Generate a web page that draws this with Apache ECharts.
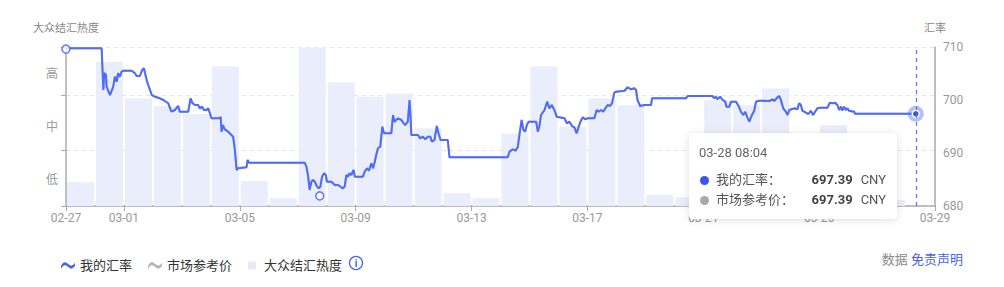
<!DOCTYPE html>
<html>
<head>
<meta charset="utf-8">
<script src="https://cdn.jsdelivr.net/npm/echarts@6/dist/echarts.min.js"></script>
<style>
html,body{margin:0;padding:0;background:#fff;}
#chart{width:1004px;height:287px;}
</style>
</head>
<body>
<div id="chart"></div>
<script>
// ---------- data ----------
const tickLabels = ['02-27','03-01','03-05','03-09','03-13','03-17','03-21','03-25','03-29'];
const tickDays   = [0, 2, 6, 10, 14, 18, 22, 26, 30]; // days after 02-27 00:00
const dayLabels = ['02-27','02-28','03-01','03-02','03-03','03-04','03-05','03-06','03-07','03-08',
  '03-09','03-10','03-11','03-12','03-13','03-14','03-15','03-16','03-17','03-18',
  '03-19','03-20','03-21','03-22','03-23','03-24','03-25','03-26','03-27','03-28'];
const heatValues = [0.43,2.60,1.94,1.80,1.66,2.52,0.45,0.14,2.86,2.23,
  1.97,2.03,1.40,0.23,0.14,1.31,2.52,1.43,1.94,1.82,
  0.20,0.16,1.91,1.82,2.12,0.90,1.46,0.30,0.11,null];
const heatLevels = ['低','中','高'];

// time of each rate sample, in days after 02-27 00:00
const rateDays = [0,1.23,1.29,1.32,1.38,1.40,1.52,1.63,1.69,1.75,1.80,1.86,1.92,1.98,2.27,2.38,2.44,2.55,2.63,2.69,
  2.73,2.80,2.90,2.96,3.07,3.24,3.36,3.53,3.64,3.76,3.87,3.93,4.22,4.30,4.37,4.45,4.56,4.62,4.70,4.76,
  4.85,4.91,4.97,5.02,5.31,5.34,5.37,5.42,5.48,5.60,5.71,5.77,5.83,5.89,5.94,6.23,6.27,6.32,8.24,8.30,
  8.36,8.41,8.47,8.53,8.59,8.67,8.73,8.78,8.84,8.91,8.97,9.01,9.16,9.28,9.39,9.56,9.62,9.68,9.73,9.79,
  9.85,9.93,9.97,10.25,10.31,10.39,10.46,10.54,10.60,10.66,10.71,10.77,10.85,10.92,10.98,11.23,11.29,11.34,11.46,11.58,
  11.66,11.71,11.80,11.86,11.90,11.92,12.15,12.23,12.32,12.41,12.49,12.58,12.63,12.72,12.80,12.86,12.93,13.18,13.24,15.25,
  15.31,15.42,15.52,15.60,15.66,15.73,15.79,15.85,15.91,15.97,16.23,16.29,16.34,16.40,16.52,16.61,16.69,16.77,16.86,16.94,
  17.03,17.21,17.29,17.38,17.47,17.55,17.63,17.68,17.76,17.84,17.92,18.01,18.24,18.32,18.39,18.47,18.55,18.62,18.70,18.78,
  18.85,18.93,18.99,19.28,19.39,19.51,19.62,19.68,19.73,19.82,19.97,20.20,20.23,21.40,21.46,22.32,22.38,22.44,22.49,22.58,
  22.67,22.76,22.80,22.90,22.96,23.13,23.22,23.30,23.38,23.45,23.51,23.59,23.68,23.76,23.82,23.93,24.28,24.39,24.45,24.56,
  24.62,24.68,24.76,24.85,24.91,24.97,25.14,25.25,25.31,25.37,25.42,25.54,25.63,25.71,25.79,25.86,25.94,26.06,26.29,26.37,
  26.46,26.55,26.63,26.69,26.75,26.80,26.86,26.92,26.98,27.03,27.21,27.24,29.336];
const rateValues = [709.75,709.75,701.89,705.09,704.72,702.51,700.94,702.51,704.40,703.45,705.04,704.40,705.34,705.53,705.53,705.04,704.53,704.53,705.66,705.98,
  705.04,703.45,701.89,700.94,700.62,700.32,700.00,699.38,697.79,698.11,698.87,697.79,697.79,700.32,699.38,699.06,699.06,698.43,698.74,698.11,
  698.11,698.43,697.49,696.55,696.55,696.85,694.02,695.28,694.47,694.02,693.40,693.08,690.57,686.79,687.11,687.30,688.68,688.17,688.17,687.42,
  685.53,683.02,684.58,684.91,684.58,683.64,683.34,683.64,685.53,686.17,685.85,684.58,684.58,683.96,683.96,683.34,683.64,685.85,685.53,686.17,
  685.85,686.79,685.53,685.53,686.47,687.11,686.66,688.06,687.11,688.36,689.62,690.89,691.19,694.96,693.72,693.72,697.17,695.91,696.55,696.23,
  695.60,695.28,695.91,700.00,696.23,693.40,693.40,692.77,693.08,692.58,693.08,693.08,692.13,692.45,695.09,693.72,692.45,692.45,689.19,689.19,
  690.25,690.70,690.43,691.19,693.72,696.23,694.34,694.02,695.28,695.91,695.91,694.02,694.96,697.17,698.11,699.68,698.43,699.06,698.11,696.85,
  696.74,696.55,695.60,695.91,695.09,694.85,693.72,694.66,695.91,696.74,696.36,696.55,696.55,698.11,697.79,698.11,697.79,698.43,699.06,698.87,
  699.38,701.38,701.57,701.75,702.40,702.02,702.21,701.89,700.00,698.87,699.06,699.06,700.32,700.32,700.75,700.75,700.32,700.62,700.13,700.62,
  700.00,699.68,698.74,698.74,699.68,699.68,698.87,697.79,697.17,697.79,696.85,695.91,697.17,697.98,699.68,699.87,699.81,700.13,699.81,700.51,
  700.75,700.00,698.43,697.79,697.17,698.11,698.43,698.25,699.38,699.06,697.98,697.60,697.36,697.98,697.17,697.79,698.43,698.55,698.55,699.49,
  699.38,699.49,699.06,698.11,698.74,697.98,698.74,698.11,698.43,697.98,697.79,697.39,697.39];
// market reference price coincides with my rate everywhere in the picture
const marketValues = rateValues;
const markerPoints = [[0, 709.6], [8.76, 681.9]];
const tooltipTime = '03-28 08:04';

// ---------- chart ----------
const BLUE = '#4662f2';
const chart = echarts.init(document.getElementById('chart'), null, {renderer: 'svg', width: 1004, height: 287});
const FONT = 'Roboto, "Noto Sans CJK SC", sans-serif';
const rateData = rateDays.map((d, i) => [d, rateValues[i]]);
const marketData = rateDays.map((d, i) => [d, marketValues[i]]);
const last = rateData.length - 1;
const wave = 'path://M0,5C2,1 4,0 7,3C10,6 12,5 14,2L14,5C12,8 10,9 7,6C4,3 2,4 0,8Z';

chart.setOption({
  animation: false,
  textStyle: {fontFamily: FONT},
  grid: {left: 66, right: 69, top: 47, bottom: 81},
  legend: {
    left: 56, top: 254, itemWidth: 14, itemHeight: 8, itemGap: 16,
    textStyle: {fontSize: 13, color: '#333', fontFamily: FONT},
    data: [
      {name: '我的汇率', icon: wave, itemStyle: {color: BLUE}},
      {name: '市场参考价', icon: wave, itemStyle: {color: '#b3b3b3'}},
      {name: '大众结汇热度', icon: 'path://M0,0H10V10H0Z', itemStyle: {color: '#e6eafb'}}
    ]
  },
  tooltip: {
    trigger: 'axis',
    transitionDuration: 0,
    alwaysShowContent: true,
    padding: 0,
    borderWidth: 0,
    backgroundColor: '#fff',
    extraCssText: 'box-shadow:0 1px 8px rgba(0,0,0,0.13);border-radius:4px;',
    position: [689, 133],
    axisPointer: {type: 'line', axis: 'x', lineStyle: {color: '#5a74f2', type: [4, 4], width: 1.2}, label: {show: false}},
    formatter: function () {
      const row = (color, name, val) =>
        '<div style="display:flex;align-items:center;height:20px;line-height:20px;">' +
        '<span style="display:inline-block;width:9px;height:9px;border-radius:50%;background:' + color + ';margin:0 7px 0 1px;"></span>' +
        '<span style="flex:1;color:#555;">' + name + '</span>' +
        '<span style="font-weight:bold;color:#444;">' + val.toFixed(2) + '</span>' +
        '<span style="color:#555;margin-left:8px;">CNY</span></div>';
      return '<div style="box-sizing:border-box;width:208px;height:86px;padding:10px 11px 0 10px;font-family:' + FONT.replace(/"/g, "'") + ';font-size:13px;">' +
        '<div style="height:20px;line-height:20px;color:#666;margin-bottom:7px;">' + tooltipTime + '</div>' +
        row('#3d55e6', '我的汇率：', rateValues[last]) +
        row('#a9a9a9', '市场参考价：', marketValues[last]) +
        '</div>';
    }
  },
  xAxis: [
    {
      type: 'value', min: 0, max: 30,
      axisLine: {lineStyle: {color: '#aaa', width: 1.5}},
      axisTick: {show: true, length: 5, lineStyle: {color: '#aaa'}, customValues: tickDays},
      axisLabel: {
        color: '#999', fontSize: 12, margin: 6, customValues: tickDays,
        formatter: v => tickLabels[tickDays.indexOf(v)] || ''
      },
      splitLine: {show: false}
    },
    {
      type: 'category', data: dayLabels, show: false, boundaryGap: true,
      axisPointer: {show: false, triggerTooltip: false}
    }
  ],
  yAxis: [
    {
      type: 'value', min: 0, max: 2.87, interval: 1,
      name: '大众结汇热度', nameLocation: 'end', nameGap: 13,
      nameTextStyle: {color: '#888', fontSize: 11, align: 'center'},
      axisLine: {show: true, lineStyle: {color: '#aaa', width: 1.5}},
      axisTick: {show: true, length: 5, lineStyle: {color: '#aaa'}},
      axisLabel: {show: false},
      splitLine: {show: true, lineStyle: {color: '#e2e5f0', type: [4, 4]}}
    },
    {
      type: 'value', min: 680, max: 710, interval: 10, position: 'right',
      name: '汇率', nameLocation: 'end', nameGap: 13,
      nameTextStyle: {color: '#888', fontSize: 11, align: 'center'},
      axisLine: {show: true, lineStyle: {color: '#aaa', width: 1.5}},
      axisTick: {show: false},
      axisLabel: {color: '#999', fontSize: 12, margin: 8},
      splitLine: {show: false}
    },
    {
      type: 'category', data: heatLevels, position: 'left', boundaryGap: true,
      axisLine: {show: false}, axisTick: {show: false}, splitLine: {show: false},
      axisLabel: {color: '#999', fontSize: 12, margin: 8},
      axisPointer: {show: false, triggerTooltip: false}
    }
  ],
  series: [
    {
      name: '大众结汇热度', type: 'bar', xAxisIndex: 1, yAxisIndex: 0,
      data: heatValues, barCategoryGap: '7%',
      itemStyle: {color: '#e9edfc'}, silent: true, z: 1
    },
    {
      name: '市场参考价', type: 'line', xAxisIndex: 0, yAxisIndex: 1,
      data: marketData, symbol: 'none', lineStyle: {color: '#b3b3b3', width: 2}, z: 2
    },
    {
      name: '我的汇率', type: 'line', xAxisIndex: 0, yAxisIndex: 1,
      data: rateData, symbol: 'none', lineStyle: {color: BLUE, width: 2}, z: 3,
      markPoint: {
        silent: true, animation: false,
        label: {show: false},
        data: [
          {coord: rateData[last], symbol: 'circle', symbolSize: 16, itemStyle: {color: 'rgba(90,116,242,0.45)'}},
          {coord: rateData[last], symbol: 'circle', symbolSize: 7, itemStyle: {color: '#3450e2', borderColor: '#fff', borderWidth: 1.5}}
        ]
      }
    },
    {
      name: 'markers', type: 'scatter', xAxisIndex: 0, yAxisIndex: 1,
      data: markerPoints, symbol: 'circle', symbolSize: 8, silent: true, z: 4,
      itemStyle: {color: '#fff', borderColor: BLUE, borderWidth: 1.6},
      tooltip: {show: false}
    }
  ],
  graphic: [
    {type: 'circle', shape: {cx: 356, cy: 263, r: 6.5}, style: {fill: 'none', stroke: BLUE, lineWidth: 1.3}},
    {type: 'text', x: 356, y: 263, style: {text: 'i', fill: BLUE, font: 'bold 10px ' + FONT, align: 'center', verticalAlign: 'middle'}},
    {type: 'text', right: 41, top: 253, style: {
      text: '{a|数据} {b|免责声明}',
      rich: {a: {fill: '#8a8a8a', fontSize: 13, fontFamily: FONT}, b: {fill: '#4a63e6', fontSize: 13, fontFamily: FONT}}
    }}
  ]
});
chart.dispatchAction({type: 'showTip', seriesIndex: 2, dataIndex: last});
</script>
</body>
</html>
